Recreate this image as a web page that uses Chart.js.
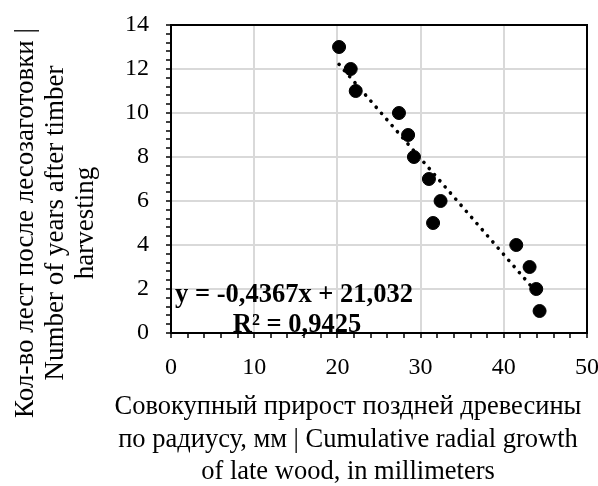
<!DOCTYPE html>
<html>
<head>
<meta charset="utf-8">
<script src="https://cdn.jsdelivr.net/npm/chart.js@4/dist/chart.umd.min.js"></script>
<style>
  html, body { margin: 0; padding: 0; background: #ffffff; }
  #wrap { width: 598px; height: 486px; }
</style>
</head>
<body>
<div id="wrap"><canvas id="c" width="598" height="486"></canvas></div>
<script>
// ---- data ----
const growthMm = [20.2, 21.6, 22.2, 27.4, 28.5, 29.2, 31.0, 32.4, 31.5, 41.5, 43.1, 43.9, 44.3];
const yearsAfter = [13, 12, 11, 10, 9, 8, 7, 6, 5, 4, 3, 2, 1];
const trendSlope = -0.4367;
const trendIntercept = 21.032;
const equationLines = ["y = -0,4367x + 21,032", "R² = 0,9425"];
const xTitleLines = ["Совокупный прирост поздней древесины", "по радиусу, мм | Cumulative radial growth", "of late wood, in millimeters"];
const yTitleLines = ["Кол-во лест после лесозаготовки |", "Number of years after timber", "harvesting"];

const FONT = "'Liberation Serif', 'Times New Roman', serif";

const points = growthMm.map((x, i) => ({ x: x, y: yearsAfter[i] }));
const xMin = Math.min(...growthMm), xMax = Math.max(...growthMm);
const trend = [xMin, xMax].map(x => ({ x: x, y: trendSlope * x + trendIntercept }));

const isMult = (v, m) => Math.abs(v / m - Math.round(v / m)) < 1e-6;

const decorPlugin = {
  id: 'decor',
  afterDatasetsDraw(chart) {
    const ctx = chart.ctx;
    const a = chart.chartArea;
    ctx.save();
    // frame top/right
    ctx.strokeStyle = '#000';
    ctx.lineWidth = 2;
    ctx.beginPath();
    ctx.moveTo(a.left, a.top);
    ctx.lineTo(a.right, a.top);
    ctx.lineTo(a.right, a.bottom);
    ctx.stroke();
    // equation
    ctx.fillStyle = '#000';
    ctx.textAlign = 'center';
    ctx.textBaseline = 'alphabetic';
    ctx.font = "bold 26.5px " + FONT;
    ctx.fillText(equationLines[0], 294, 302);
    ctx.fillText(equationLines[1], 297, 332);
    ctx.restore();
  },
  afterDraw(chart) {
    const ctx = chart.ctx;
    ctx.save();
    ctx.fillStyle = '#000';
    ctx.textAlign = 'center';
    ctx.textBaseline = 'alphabetic';
    ctx.font = "26.5px " + FONT;
    const xb = [414, 447, 479];
    xTitleLines.forEach((t, i) => ctx.fillText(t, 348, xb[i]));
    ctx.font = "27px " + FONT;
    ctx.translate(0, 223);
    ctx.rotate(-Math.PI / 2);
    const yb = [33, 63, 93];
    yTitleLines.forEach((t, i) => ctx.fillText(t, 0, yb[i]));
    ctx.restore();
  }
};

new Chart(document.getElementById('c'), {
  data: {
    datasets: [
      {
        type: 'scatter',
        data: points,
        backgroundColor: '#000',
        borderColor: '#000',
        pointRadius: 6.5,
        pointHoverRadius: 6.5,
        order: 1
      },
      {
        type: 'line',
        data: trend,
        borderColor: '#000',
        borderWidth: 3.6,
        borderDash: [0.1, 8],
        borderCapStyle: 'round',
        pointRadius: 0,
        fill: false,
        order: 2
      }
    ]
  },
  options: {
    responsive: false,
    devicePixelRatio: 1,
    animation: false,
    layout: { padding: { left: 0, top: 25, right: 11, bottom: 0 } },
    plugins: { legend: { display: false }, tooltip: { enabled: false } },
    scales: {
      x: {
        type: 'linear',
        position: 'bottom',
        min: 0, max: 50,
        afterFit(s) { s.height = 153; s.paddingLeft = 0; s.paddingRight = 0; },
        ticks: {
          stepSize: 2,
          autoSkip: false,
          maxRotation: 0,
          padding: 15,
          color: '#000',
          font: { family: FONT, size: 24 },
          callback: v => isMult(v, 10) ? String(v) : ''
        },
        grid: {
          color: c => (c.tick && isMult(c.tick.value, 10)) ? '#d9d9d9' : 'rgba(0,0,0,0)',
          lineWidth: 2,
          drawTicks: true,
          tickLength: 5,
          tickColor: '#000',
          tickWidth: 1.5
        },
        border: { display: true, color: '#000', width: 2 }
      },
      y: {
        type: 'linear',
        min: 0, max: 14,
        afterFit(s) { s.width = 171; s.paddingTop = 0; s.paddingBottom = 0; },
        ticks: {
          stepSize: 0.4,
          autoSkip: false,
          padding: 17,
          color: '#000',
          font: { family: FONT, size: 24 },
          callback: v => isMult(v, 2) ? String(Math.round(v)) : ''
        },
        grid: {
          color: c => (c.tick && isMult(c.tick.value, 2)) ? '#d9d9d9' : 'rgba(0,0,0,0)',
          lineWidth: 2,
          drawTicks: true,
          tickLength: 5,
          tickColor: '#000',
          tickWidth: 1.5
        },
        border: { display: true, color: '#000', width: 2 }
      }
    }
  },
  plugins: [decorPlugin]
});
</script>
</body>
</html>
